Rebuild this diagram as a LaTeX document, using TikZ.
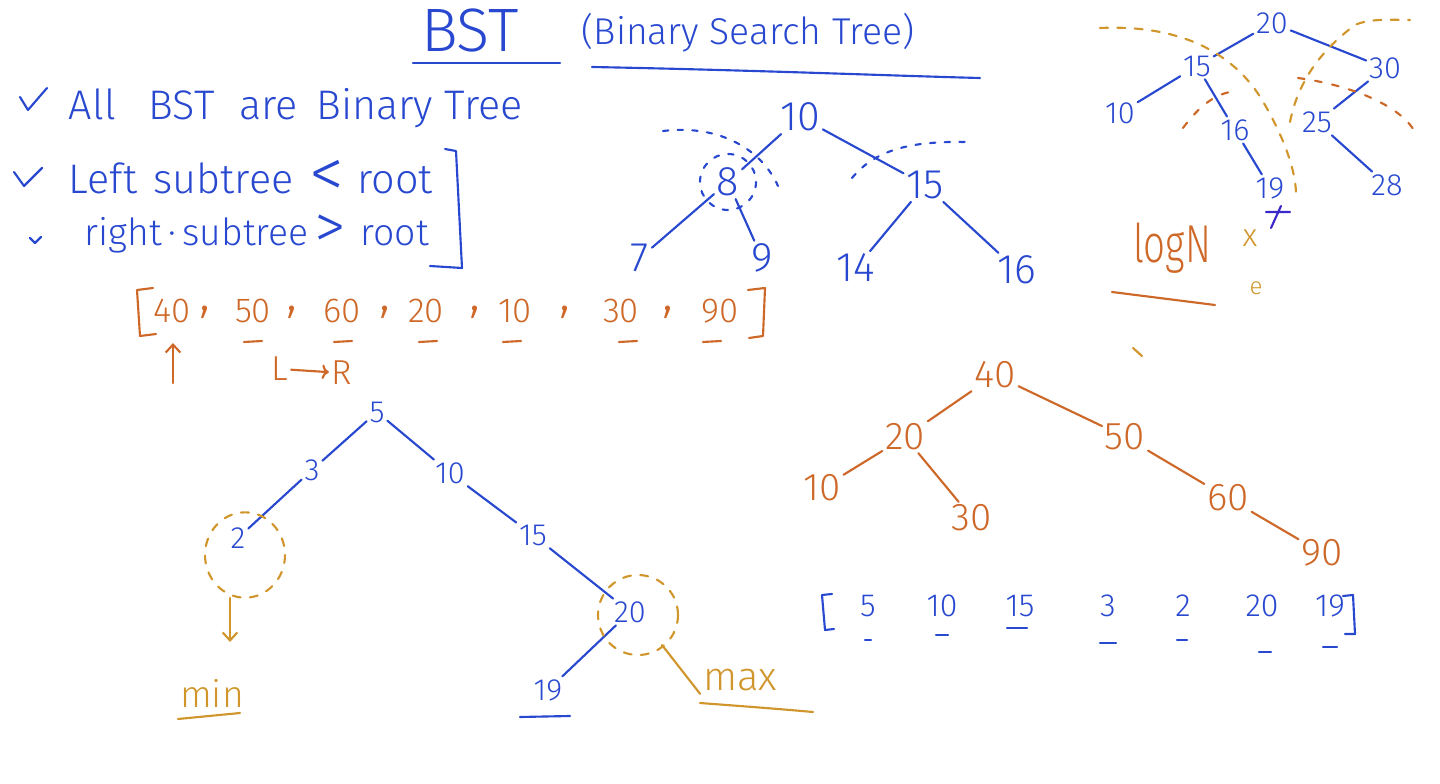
\documentclass[tikz,border=0pt]{standalone}
\usepackage{fontspec}
\setmainfont{Fira Sans}[UprightFont={* Light}]
\usetikzlibrary{arrows.meta}

\definecolor{penblue}{RGB}{40,72,208}
\definecolor{penviolet}{RGB}{58,40,200}
\definecolor{penorange}{RGB}{206,104,40}
\definecolor{pengold}{RGB}{208,150,44}

\tikzset{
  inkb/.style={penblue, line width=1.6pt, line cap=round, line join=round},
  inko/.style={penorange, line width=1.6pt, line cap=round, line join=round},
  inkg/.style={pengold, line width=1.6pt, line cap=round, line join=round},
  dashb/.style={inkb, dash pattern=on 4pt off 7pt},
  dasho/.style={inko, dash pattern=on 5pt off 8pt},
  dashg/.style={inkg, dash pattern=on 6pt off 7pt},
  bnum/.style={text=penblue, inner sep=2pt},
  onum/.style={text=penorange, inner sep=2pt},
  gtxt/.style={text=pengold, inner sep=2pt},
  fsA/.style={font=\fontsize{31}{34}\selectfont},
  fsB/.style={font=\fontsize{23}{26}\selectfont},
  fsC/.style={font=\fontsize{29}{32}\selectfont},
  fsD/.style={font=\fontsize{26}{29}\selectfont},
  fsE/.style={font=\fontsize{24}{27}\selectfont},
  tip/.style={-{Straight Barb[length=6pt,width=11pt]}}
}
\newcommand{\bigrel}[1]{\raisebox{-0.1em}[0pt][0pt]{\scalebox{1.7}{#1}}}

\begin{document}
\begin{tikzpicture}[x=0.75pt,y=0.75pt,yscale=-1,xscale=1]
\useasboundingbox (0,0) rectangle (1440,784);

% title
\node[bnum, font=\fontsize{46}{50}\selectfont] (ttl) at (470,30) {BST};
\draw[inkb] (413,63) -- (560,63);
\node[bnum, font=\fontsize{28}{32}\selectfont] (subttl) at (748,33) {(Binary Search Tree)};
\draw[inkb] (592,67) .. controls (750,70) and (900,76) .. (980,78);

% rules
\draw[inkb] (20,97) -- (28,110) -- (47,88);
\node[bnum, fsA, anchor=west] (rule1) at (66,108) {All\hspace{0.8em}BST\hspace{0.6em}are\hspace{0.45em}Binary Tree};
\draw[inkb] (14,172) -- (24,186) -- (42,168);
\node[bnum, fsA, anchor=west] (rule2) at (66,178) {Left\hspace{0.4em}subtree\hspace{0.4em}\bigrel{<}\hspace{0.3em}root};
\draw[inkb] (30,238) -- (35,243) -- (41,237);
\node[bnum, font=\fontsize{28}{31}\selectfont, anchor=west] (rule3) at (82,235) {right\,·\,subtree\hspace{0.15em}\bigrel{>}\hspace{0.4em}root};
\draw[inkb] (445,149) -- (456,151) -- (462,268) -- (430,266);

% tree: 10, 8, 15
\node[bnum, fsA] (a10) at (800,117) {10};
\node[bnum, fsA] (a8) at (728,182) {8};
\node[bnum, fsA] (a15) at (925,185) {15};
\node[bnum, fsA] (a7) at (640,258) {7};
\node[bnum, fsA] (a9) at (762,258) {9};
\node[bnum, fsA] (a14) at (856,268) {14};
\node[bnum, fsA] (a16) at (1017,270) {16};
\draw[inkb] (a10) -- (a8);
\draw[inkb] (a10) -- (a15);
\draw[inkb] (a8) -- (a7);
\draw[inkb] (a8) -- (a9);
\draw[inkb] (a15) -- (a14);
\draw[inkb] (a15) -- (a16);
\draw[dashb] (a8) circle (21pt);
\draw[dashb] (663,131) .. controls (720,124) and (762,150) .. (778,186);
\draw[dashb] (852,178) .. controls (875,150) and (910,141) .. (966,142);

% tree: 20 at top right
\node[bnum, fsB] (b20) at (1272,23) {20};
\node[bnum, fsB] (b15) at (1197,66) {15};
\node[bnum, fsB] (b30) at (1385,68) {30};
\node[bnum, fsB] (b10) at (1120,113) {10};
\node[bnum, fsB] (b16) at (1235,130) {16};
\node[bnum, fsB] (b25) at (1317,122) {25};
\node[bnum, fsB] (b19) at (1270,188) {19};
\node[bnum, fsB] (b28) at (1387,185) {28};
\draw[inkb] (b20) -- (b15);
\draw[inkb] (b20) -- (b30);
\draw[inkb] (b15) -- (b10);
\draw[inkb] (b15) -- (b16);
\draw[inkb] (b16) -- (b19);
\draw[inkb] (b30) -- (b25);
\draw[inkb] (b25) -- (b28);
\draw[penviolet, line width=1.6pt, line cap=round] (1266,212) -- (1290,212) (1281,206) -- (1271,228);
\draw[dashg] (1100,28) .. controls (1190,24) and (1240,60) .. (1265,105) .. controls (1285,140) and (1295,170) .. (1296,192);
\draw[dasho] (1183,128) .. controls (1200,105) and (1215,95) .. (1230,92);
\draw[dashg] (1290,122) .. controls (1300,70) and (1335,40) .. (1355,25) .. controls (1370,18) and (1395,20) .. (1410,20);
\draw[dasho] (1298,78) .. controls (1350,85) and (1400,105) .. (1415,132);

\node[onum, font=\fontsize{40}{44}\selectfont] (logn) at (1172,248) {\scalebox{0.72}[1]{logN}};
\node[gtxt, fsE] (xmark) at (1250,238) {x};
\node[gtxt, font=\fontsize{18}{20}\selectfont] (emark) at (1256,288) {e};
\draw[inko] (1112,292) -- (1215,305);
\draw[inkg] (1133,348) -- (1142,356);

% input array
\draw[inko] (153,288) -- (137,290) -- (140,336) -- (156,334);
\foreach \v/\x in {40/172,50/253,60/342,20/426,10/515,30/621,90/720}
  \node[onum, fsD] (arr\v) at (\x,311) {\v};
\foreach \x in {205,292,385,475,565,668}
  \node[onum, font=\fontsize{40}{40}\selectfont] at (\x,312) {,};
\draw[inko] (748,290) -- (765,288) -- (763,336) -- (749,338);
\foreach \x in {253,343,428,512,628,712}
  \draw[inko] (\x-9,342) -- (\x+9,341);
\coordinate (upA) at (173,383);
\coordinate (upB) at (173,343);
\draw[inko, tip] (upA) -- (upB);
\node[onum, fsD] (lrL) at (280,369) {L};
\node[onum, fsD] (lrR) at (342,373) {R};
\draw[inko, ->] (lrL) -- (lrR);

% tree: 5
\node[bnum, fsB] (c5) at (377,412) {5};
\node[bnum, fsB] (c3) at (312,470) {3};
\node[bnum, fsB] (c10) at (450,473) {10};
\node[bnum, fsB] (c2) at (238,538) {2};
\node[bnum, fsB] (c15) at (533,535) {15};
\node[bnum, fsB] (c20) at (630,612) {20};
\node[bnum, fsB] (c19) at (548,690) {19};
\draw[inkb] (c5) -- (c3);
\draw[inkb] (c5) -- (c10);
\draw[inkb] (c3) -- (c2);
\draw[inkb] (c10) -- (c15);
\draw[inkb] (c15) -- (c20);
\draw[inkb] (c20) -- (c19);
\draw[inkb] (520,717) -- (570,716);
\draw[dashg] (245,555) ellipse [x radius=30pt, y radius=32pt];
\draw[dashg] (638,615) circle (30pt);
\coordinate (minTop) at (230,598);
\coordinate (minEnd) at (230,642);
\draw[inkg, tip] (minTop) -- (minEnd);
\node[gtxt, font=\fontsize{28}{30}\selectfont] (minTxt) at (212,693) {min};
\draw[inkg] (178,719) -- (240,713);
\coordinate (maxFoot) at (662,645);
\node[gtxt, font=\fontsize{30}{32}\selectfont] (maxTxt) at (740,680) {max};
\draw[inkg] (maxFoot) -- (maxTxt.south west);
\draw[inkg] (700,703) .. controls (740,706) and (780,709) .. (813,712);

% tree: 40
\node[onum, fsC] (d40) at (995,375) {40};
\node[onum, fsC] (d20) at (905,437) {20};
\node[onum, fsC] (d50) at (1125,437) {50};
\node[onum, fsC] (d10) at (822,488) {10};
\node[onum, fsC] (d30) at (972,518) {30};
\node[onum, fsC] (d60) at (1228,498) {60};
\node[onum, fsC] (d90) at (1322,553) {90};
\draw[inko] (d40) -- (d20);
\draw[inko] (d40) -- (d50);
\draw[inko] (d20) -- (d10);
\draw[inko] (d20) -- (d30);
\draw[inko] (d50) -- (d60);
\draw[inko] (d60) -- (d90);

% output array
\draw[inkb] (832,594) -- (822,595) -- (825,630) -- (834,629);
\foreach \v/\x in {5/868,10/942,15/1020,3/1108,2/1183,20/1262,19/1330}
  \node[bnum, fsE] (out\v) at (\x,606) {\v};
\draw[inkb] (1343,596) -- (1353,595) -- (1355,634) -- (1345,634);
\foreach \x/\y/\w in {868/640/3,942/635/6,1017/628/10,1108/643/8,1182/640/5,1265/652/6,1330/647/7}
  \draw[inkb] (\x-\w,\y) -- (\x+\w,\y);

\end{tikzpicture}
\end{document}
